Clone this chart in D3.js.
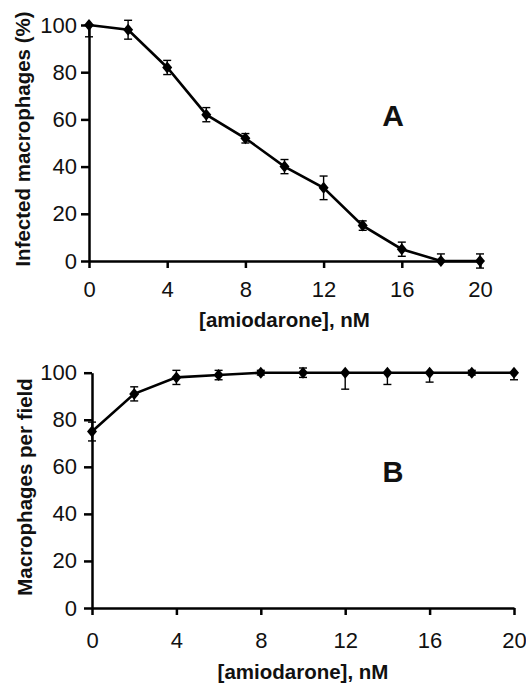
<!DOCTYPE html>
<html>
<head>
<meta charset="utf-8">
<script src="https://cdn.jsdelivr.net/npm/d3@7"></script>
<style>
  body { margin: 0; background: #fff; }
  svg { display: block; font-family: "Liberation Sans", Arial, sans-serif; }
  .axis path, .axis line { stroke: #000; stroke-width: 2.5px; }
  .axis text { font-size: 22px; fill: #111; }
</style>
</head>
<body>
<div id="chart"></div>
<script>
// concentration (nM), same for both panels
const conc = [0, 2, 4, 6, 8, 10, 12, 14, 16, 18, 20];
const xTicks = [0, 4, 8, 12, 16, 20];
const yTicks = [0, 20, 40, 60, 80, 100];

// panel A: infected macrophages (%)
const infected = [100, 98, 82, 62, 52, 40, 31, 15, 5, 0, 0];
const infErrUp = [0, 4, 3, 3, 2, 3, 5, 2, 3, 3, 3];
const infErrDown = [5, 4, 3, 3, 2, 3, 5, 2, 3, 0, 3];

// panel B: macrophages per field
const perField = [75, 91, 98, 99, 100, 100, 100, 100, 100, 100, 100];
const pfErrUp = [4, 3, 3, 2, 1, 2, 0, 0, 0, 1, 0];
const pfErrDown = [4, 3, 3, 2, 1, 2, 7, 5, 4, 1, 3];

const width = 526, height = 684;

const svg = d3.select("#chart").append("svg")
    .attr("width", width)
    .attr("height", height);

const diamond = "M0,-6L5,0L0,6L-5,0Z";

function panel(opts) {
    const x = d3.scaleLinear().domain([0, 20]).range([opts.left, opts.right]);
    const y = d3.scaleLinear().domain([0, 100]).range([opts.bottom, opts.top]);

    svg.append("g")
        .attr("class", "axis")
        .attr("transform", "translate(0," + opts.bottom + ")")
        .call(d3.axisBottom(x).tickValues(xTicks).tickSizeInner(7).tickSizeOuter(0).tickPadding(opts.xPad))
        .call(g => g.selectAll("text").attr("font-family", "Liberation Sans, Arial, sans-serif"));

    svg.append("g")
        .attr("class", "axis")
        .attr("transform", "translate(" + opts.left + ",0)")
        .call(d3.axisLeft(y).tickValues(yTicks).tickSizeInner(8).tickSizeOuter(0).tickPadding(opts.yPad))
        .call(g => g.selectAll("text").attr("font-family", "Liberation Sans, Arial, sans-serif"));

    const pts = conc.map((c, i) => ({c: c, v: opts.vals[i], up: opts.up[i], dn: opts.dn[i]}));

    // error bars
    const eb = svg.append("g").attr("stroke", "#000").attr("stroke-width", 1.4);
    pts.forEach(d => {
        const cx = x(d.c);
        const y1 = y(d.v + d.up), y2 = y(d.v - d.dn);
        if (d.up > 0 || d.dn > 0) {
            eb.append("line").attr("x1", cx).attr("x2", cx).attr("y1", y1).attr("y2", y2);
        }
        if (d.up > 0) eb.append("line").attr("x1", cx - 4).attr("x2", cx + 4).attr("y1", y1).attr("y2", y1);
        if (d.dn > 0) eb.append("line").attr("x1", cx - 4).attr("x2", cx + 4).attr("y1", y2).attr("y2", y2);
    });

    svg.append("path")
        .datum(pts)
        .attr("fill", "none")
        .attr("stroke", "#000")
        .attr("stroke-width", 2.6)
        .attr("d", d3.line().x(d => x(d.c)).y(d => y(d.v)));

    svg.append("g").selectAll("path")
        .data(pts)
        .join("path")
        .attr("d", diamond)
        .attr("fill", "#000")
        .attr("transform", d => "translate(" + x(d.c) + "," + y(d.v) + ")");

    svg.append("text")
        .attr("x", (opts.left + opts.right) / 2)
        .attr("y", opts.xTitleY)
        .attr("text-anchor", "middle")
        .attr("font-size", "20.5px")
        .attr("font-weight", "bold")
        .attr("fill", "#111")
        .text("[amiodarone], nM");

    svg.append("text")
        .attr("transform", "translate(" + opts.yTitleX + "," + opts.yTitleMid + ") rotate(-90)")
        .attr("text-anchor", "middle")
        .attr("font-size", "20.5px")
        .attr("font-weight", "bold")
        .attr("fill", "#111")
        .text(opts.yTitle);

    svg.append("text")
        .attr("x", opts.letterX)
        .attr("y", opts.letterY)
        .attr("text-anchor", "middle")
        .attr("dominant-baseline", "central")
        .attr("font-size", opts.letterSize)
        .attr("font-weight", "bold")
        .attr("fill", "#111")
        .text(opts.letter);
}

panel({
    left: 89, right: 480, top: 25, bottom: 261,
    vals: infected, up: infErrUp, dn: infErrDown,
    xPad: 13, yPad: 4, xTitleY: 327,
    yTitle: "Infected macrophages (%)", yTitleX: 30, yTitleMid: 139,
    letter: "A", letterX: 393, letterY: 115, letterSize: "30px"
});

panel({
    left: 92, right: 514, top: 372.7, bottom: 608,
    vals: perField, up: pfErrUp, dn: pfErrDown,
    xPad: 17, yPad: 7, xTitleY: 679,
    yTitle: "Macrophages per field", yTitleX: 32, yTitleMid: 487,
    letter: "B", letterX: 393, letterY: 472, letterSize: "29px"
});
</script>
</body>
</html>
